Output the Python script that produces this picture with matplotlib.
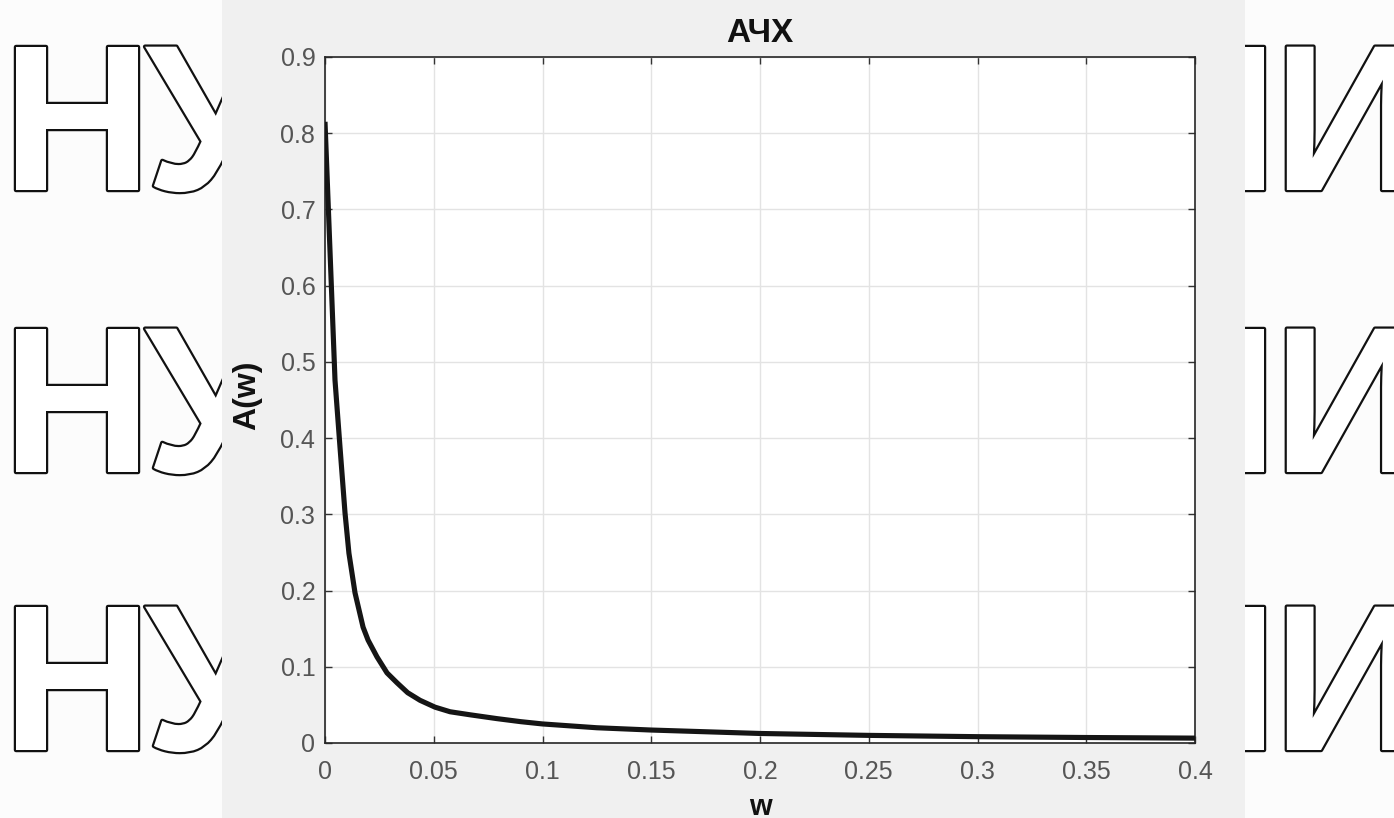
import matplotlib
matplotlib.use("Agg")
import matplotlib.pyplot as plt
from matplotlib.patches import Rectangle
import matplotlib.patheffects as pe

# ---- data ----
w_vals = [0.0, 0.0046, 0.0069, 0.0092, 0.011, 0.0138, 0.0175, 0.0198, 0.0239,
          0.0285, 0.0331, 0.038, 0.0437, 0.0506, 0.0575, 0.0667, 0.079, 0.09,
          0.1, 0.125, 0.15, 0.2, 0.25, 0.3, 0.35, 0.4]
A_vals = [0.815, 0.476, 0.388, 0.302, 0.249, 0.197, 0.152, 0.135, 0.113,
          0.092, 0.079, 0.066, 0.056, 0.047, 0.041, 0.037, 0.032, 0.028,
          0.025, 0.020, 0.017, 0.0125, 0.010, 0.0083, 0.0072, 0.0064]
x_ticks = [0, 0.05, 0.1, 0.15, 0.2, 0.25, 0.3, 0.35, 0.4]
x_tick_labels = ["0", "0.05", "0.1", "0.15", "0.2", "0.25", "0.3", "0.35", "0.4"]
y_ticks = [0, 0.1, 0.2, 0.3, 0.4, 0.5, 0.6, 0.7, 0.8, 0.9]
y_tick_labels = ["0", "0.1", "0.2", "0.3", "0.4", "0.5", "0.6", "0.7", "0.8", "0.9"]
title_text = "АЧХ"
x_label = "w"
y_label = "A(w)"
# watermark letters: (text, left origin px)
wm_letters = [("Н", 2), ("У", 145), ("Н", 1128), ("И", 1273)]
wm_baselines = [190, 472, 750]

W, H = 1394, 818
fig = plt.figure(figsize=(W / 100, H / 100), dpi=100)
fig.patch.set_facecolor("#fcfcfc")
plt.rcParams["font.family"] = ["Liberation Sans", "DejaVu Sans"]

# watermark outlined letters (behind grey panel)
outline = [pe.withStroke(linewidth=3.2, foreground="#111111")]
for base_y in wm_baselines:
    for ch, x0 in wm_letters:
        fig.text(x0 / W, 1 - base_y / H, ch, fontsize=150, fontweight="bold",
                 color="white", ha="left", va="baseline", zorder=0.1,
                 path_effects=outline)

# grey figure panel
fig.patches.append(Rectangle((222 / W, 0), (1245 - 222) / W, 1,
                             transform=fig.transFigure, facecolor="#f0f0f0",
                             edgecolor="none", zorder=0.5))

ax = fig.add_axes([325 / W, (H - 743) / H, (1195 - 325) / W, (743 - 57) / H])
ax.set_zorder(1)
ax.set_facecolor("white")

ax.plot(w_vals, A_vals, color="#151515", linewidth=3.7, solid_joinstyle="round",
        solid_capstyle="butt", zorder=3)

ax.set_xlim(0, 0.4)
ax.set_ylim(0, 0.9)
ax.set_xticks(x_ticks)
ax.set_xticklabels(x_tick_labels)
ax.set_yticks(y_ticks)
ax.set_yticklabels(y_tick_labels)
ax.grid(True, color="#e3e3e3", linewidth=1.0)
ax.set_axisbelow(True)
ax.tick_params(direction="in", length=5, width=1, color="#333333",
               top=True, right=True, labelsize=18, labelcolor="#555555")
ax.tick_params(axis="x", pad=12)
ax.tick_params(axis="y", pad=7)
for s in ax.spines.values():
    s.set_color("#262626")
    s.set_linewidth(1.2)

ax.set_title(title_text, fontsize=24, fontweight="bold", color="#111111", pad=11)
ax.set_xlabel(x_label, fontsize=21, fontweight="bold", color="#111111")
ax.set_ylabel(y_label, fontsize=23, fontweight="bold", color="#111111")
ax.xaxis.set_label_coords(0.5, -0.0735)
ax.yaxis.set_label_coords(-0.0724, 0.507)

fig.savefig("out.png", dpi=100, facecolor=fig.get_facecolor())
